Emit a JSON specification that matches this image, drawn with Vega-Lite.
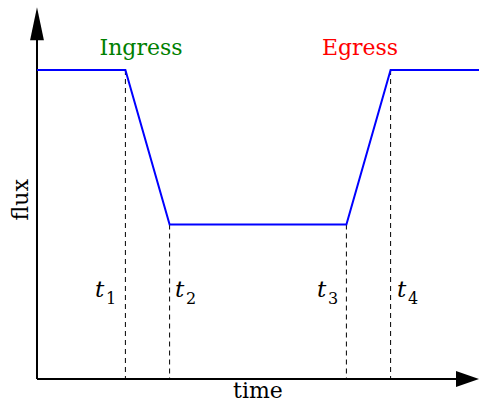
{
  "$schema": "https://vega.github.io/schema/vega-lite/v6.json",
  "width": 479,
  "height": 403,
  "padding": 0,
  "autosize": {"type": "none"},
  "background": "white",
  "config": {"view": {"stroke": null}},
  "datasets": {
    "curve": [
      {"time": 0, "flux": 1},
      {"time": 2, "flux": 1},
      {"time": 3, "flux": 0.5},
      {"time": 7, "flux": 0.5},
      {"time": 8, "flux": 1},
      {"time": 10.02, "flux": 1}
    ],
    "contacts": [
      {"time": 2, "flux": 1},
      {"time": 3, "flux": 0.5},
      {"time": 7, "flux": 0.5},
      {"time": 8, "flux": 1}
    ],
    "ticks": [
      {"time": 1.312, "flux": 0.2654, "t": "t", "sub": "1"},
      {"time": 3.122, "flux": 0.2654, "t": "t", "sub": "2"},
      {"time": 6.335, "flux": 0.2654, "t": "t", "sub": "3"},
      {"time": 8.145, "flux": 0.2654, "t": "t", "sub": "4"}
    ],
    "phases": [
      {"time": 2.353, "flux": 1.0485, "name": "Ingress", "colour": "#008000"},
      {"time": 7.308, "flux": 1.0485, "name": "Egress", "colour": "#ff0000"}
    ],
    "axes": [
      {"time": 0, "flux": 0, "time2": 9.6, "flux2": 0},
      {"time": 0, "flux": 0, "time2": 0, "flux2": 1.12}
    ],
    "arrowsUp": [{"time": 0, "flux": 1.150}],
    "arrowsRight": [{"time": 9.74, "flux": 0}],
    "titles": [
      {"time": 5.0, "flux": -0.0615, "name": "time"}
    ],
    "ytitle": [
      {"time": -0.36, "flux": 0.58, "name": "flux"}
    ]
  },
  "encoding": {
    "x": {"field": "time", "type": "quantitative", "scale": {"domain": [-0.8371, 10.0], "nice": false, "zero": false}, "axis": null},
    "y": {"field": "flux", "type": "quantitative", "scale": {"domain": [-0.07767, 1.22654], "nice": false, "zero": false}, "axis": null}
  },
  "layer": [
    {
      "data": {"name": "contacts"},
      "mark": {"type": "rule", "color": "#000000", "strokeWidth": 1, "strokeDash": [5, 4]},
      "encoding": {"y2": {"datum": 0}}
    },
    {
      "data": {"name": "axes"},
      "mark": {"type": "rule", "color": "#000000", "strokeWidth": 2},
      "encoding": {"x2": {"field": "time2"}, "y2": {"field": "flux2"}}
    },
    {
      "data": {"name": "arrowsUp"},
      "mark": {"type": "point", "filled": true, "color": "#000000", "opacity": 1, "shape": "M0,-1L0.42,1L-0.42,1Z", "size": 1089, "strokeWidth": 0}
    },
    {
      "data": {"name": "arrowsRight"},
      "mark": {"type": "point", "filled": true, "color": "#000000", "opacity": 1, "shape": "M1,0L-1,-0.7L-1,0.7Z", "size": 529, "strokeWidth": 0}
    },
    {
      "data": {"name": "curve"},
      "mark": {"type": "line", "color": "#0000ff", "strokeWidth": 2}
    },
    {
      "data": {"name": "phases"},
      "mark": {"type": "text", "font": "DejaVu Serif", "fontSize": 22, "align": "center", "baseline": "alphabetic"},
      "encoding": {"text": {"field": "name"}, "color": {"field": "colour", "type": "nominal", "scale": null}}
    },
    {
      "data": {"name": "ticks"},
      "mark": {"type": "text", "font": "DejaVu Serif", "fontStyle": "italic", "fontSize": 23, "align": "left", "baseline": "alphabetic", "color": "#000000"},
      "encoding": {"text": {"field": "t"}}
    },
    {
      "data": {"name": "ticks"},
      "mark": {"type": "text", "font": "DejaVu Serif", "fontSize": 16, "align": "left", "baseline": "alphabetic", "color": "#000000", "dx": 11, "dy": 7},
      "encoding": {"text": {"field": "sub"}}
    },
    {
      "data": {"name": "titles"},
      "mark": {"type": "text", "font": "DejaVu Serif", "fontSize": 22, "align": "center", "baseline": "alphabetic", "color": "#000000"},
      "encoding": {"text": {"field": "name"}}
    },
    {
      "data": {"name": "ytitle"},
      "mark": {"type": "text", "font": "DejaVu Serif", "fontSize": 22, "align": "center", "baseline": "middle", "angle": 270, "color": "#000000"},
      "encoding": {"text": {"field": "name"}}
    }
  ]
}
